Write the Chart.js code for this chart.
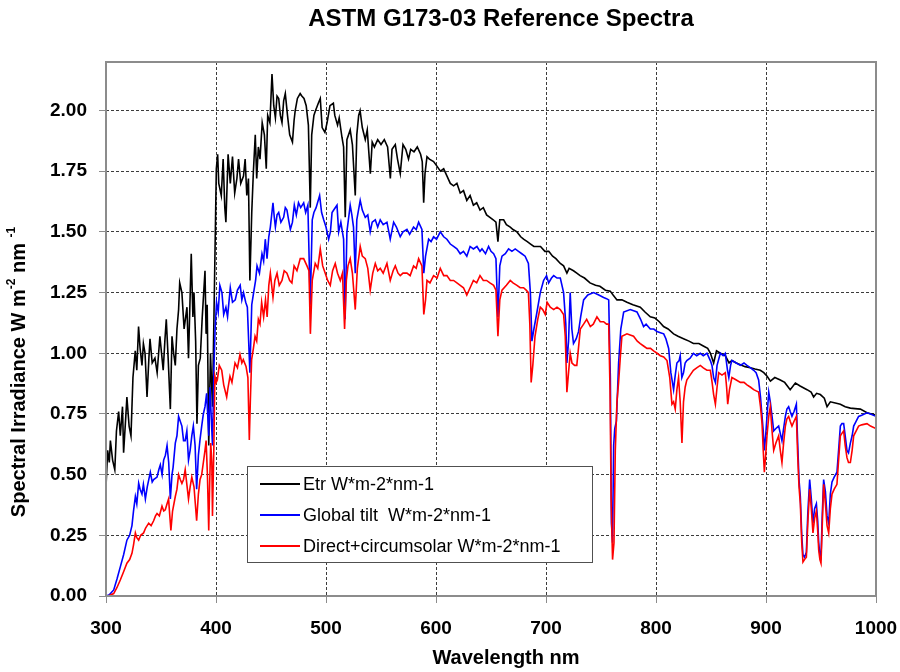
<!DOCTYPE html>
<html>
<head>
<meta charset="utf-8">
<script src="https://cdn.jsdelivr.net/npm/chart.js@4"></script>
<style>
  body { margin: 0; background: #fff; }
  canvas { display: block; }
</style>
</head>
<body>
<canvas id="grafico" width="900" height="672"></canvas>
<script>
// [nm, W*m-2*nm-1]
const etr = [
  [300,0.45],[301.5,0.60],[303,0.55],[304,0.64],[306,0.56],[308,0.52],[309.5,0.68],[311.5,0.76],[313,0.66],[315,0.78],
  [316,0.59],[318,0.74],[319,0.82],[321,0.70],[322.7,0.66],[324.5,0.90],[326.6,1.01],[328,0.93],[329.6,1.11],[331,1.02],
  [332.7,0.95],[334,1.04],[335.5,1.00],[337.3,0.82],[339,0.98],[340,1.06],[342,0.96],[344.5,0.98],[346.5,0.92],[349,1.07],
  [350.5,1.00],[352,0.93],[353.5,1.05],[354.8,1.14],[356.5,0.98],[358.5,0.77],[360,1.07],[361.5,1.00],[363,0.95],[364.5,1.10],
  [366,1.18],[367,1.29],[369,1.25],[371,1.10],[373.6,1.19],[375,0.98],[377.5,1.41],[379,1.15],[380,1.25],[381.5,1.05],
  [382.7,0.71],[384,0.95],[385.7,0.98],[387.5,1.15],[390,1.34],[391,1.08],[392,1.20],[393.4,0.62],[395,1.00],[396.8,0.78],
  [398.5,1.25],[400.3,1.76],[401.5,1.82],[402.5,1.70],[404.8,1.65],[406.5,1.80],[408,1.60],[409,1.54],[411,1.82],[413,1.70],
  [415,1.81],[417,1.66],[419,1.72],[420.5,1.80],[422.5,1.70],[425,1.73],[426.5,1.80],[428,1.65],[429.5,1.72],[430.8,1.30],
  [432.5,1.58],[434,1.75],[435.7,1.90],[437,1.72],[438.5,1.85],[440,1.80],[442,1.95],[444,1.90],[445.7,1.76],[447,1.98],
  [449,1.95],[450.9,2.15],[452.5,2.02],[454,1.97],[455.5,2.06],[457,2.05],[458.5,1.98],[460,1.95],[461.5,2.04],[463,2.07],
  [465,1.98],[467,1.90],[469.5,1.87],[471,1.96],[472,2.00],[474,2.05],[476.5,2.07],[478,2.06],[480,2.05],[482,2.02],
  [484,1.94],[485.7,1.60],[487,1.90],[489,1.98],[490.5,2.00],[493,2.03],[494.8,2.05],[496.5,1.93],[499,1.91],[501,1.95],
  [503.6,2.02],[506.7,2.03],[508,1.98],[510.5,1.94],[512,1.97],[514.5,1.89],[516,1.85],[517.5,1.56],[519,1.88],[522,1.92],
  [524,1.86],[526.6,1.65],[528,1.90],[529.7,1.98],[531,2.00],[533,1.93],[535.7,1.88],[537.5,1.92],[540.3,1.74],[542,1.87],
  [544,1.85],[547,1.88],[550,1.86],[553,1.88],[556,1.85],[558.5,1.72],[560,1.84],[563,1.86],[565,1.80],[567.5,1.74],
  [570,1.86],[572.5,1.84],[575,1.80],[577,1.84],[580,1.83],[583,1.85],[586,1.82],[587.5,1.79],[588.8,1.62],[590,1.74],
  [591.8,1.81],[594,1.80],[597.8,1.79],[601,1.77],[604,1.75],[607,1.76],[610,1.73],[613,1.70],[616,1.69],[619,1.70],
  [622,1.66],[625,1.67],[628,1.63],[631,1.65],[634,1.61],[637,1.62],[640,1.59],[643,1.60],[646,1.57],[649,1.56],
  [652,1.55],[654.5,1.54],[656.3,1.46],[658,1.55],[661.5,1.55],[664,1.53],[667.5,1.52],[670,1.51],[673.6,1.50],[677,1.48],
  [679.6,1.47],[683,1.46],[686,1.45],[689,1.44],[692,1.44],[695,1.44],[699,1.42],[702.5,1.42],[706,1.40],[709,1.39],
  [713,1.37],[716,1.36],[719,1.33],[721,1.35],[725,1.34],[728,1.33],[731,1.32],[735,1.31],[740,1.29],[745,1.28],
  [749,1.276],[754,1.26],[758.4,1.256],[761,1.24],[764.5,1.22],[769,1.22],[773.6,1.21],[779,1.20],[785.7,1.19],[790,1.17],
  [794.8,1.15],[799,1.145],[803,1.13],[806.9,1.11],[811,1.10],[816,1.08],[820,1.07],[825,1.06],[830,1.05],[834,1.04],
  [839,1.04],[843,1.03],[847,1.02],[849.5,1.00],[852.4,0.96],[855,1.01],[858.5,1.00],[863,0.99],[866.4,0.96],[869,0.97],
  [873,0.96],[876.7,0.953],[881,0.945],[885.8,0.94],[890,0.935],[894.8,0.93],[898,0.92],[901,0.905],[904,0.885],[908,0.90],
  [913,0.89],[917,0.88],[922,0.85],[926.7,0.877],[931,0.865],[937.3,0.85],[941,0.84],[943.3,0.82],[946,0.835],[949.4,0.83],
  [953,0.815],[955.5,0.78],[958.5,0.80],[963,0.795],[967.6,0.79],[972,0.78],[976.7,0.774],[981,0.772],[985.8,0.77],[991.8,0.755],
  [996,0.75],[1000,0.745]
];

const globalTilt = [
  [300,0.0],[303,0.005],[307,0.025],[310,0.07],[313,0.12],[316,0.17],[319,0.23],[321.5,0.25],[323.6,0.29],[325,0.35],
  [326.7,0.41],[328,0.38],[329.7,0.465],[331,0.44],[332.7,0.42],[334,0.46],[335.8,0.40],[337.5,0.45],[340.3,0.51],[342,0.47],
  [343.3,0.48],[346.4,0.49],[348,0.52],[349.4,0.54],[351,0.50],[352.4,0.56],[354,0.58],[355.5,0.62],[357,0.55],[358.5,0.40],
  [360,0.50],[361,0.53],[363,0.63],[364.5,0.66],[366,0.74],[367.5,0.72],[369,0.70],[370.5,0.64],[372,0.64],[373.5,0.68],
  [375,0.56],[376.5,0.60],[378,0.66],[379.4,0.70],[381,0.62],[382.4,0.44],[384,0.58],[385.5,0.645],[387,0.70],[388.5,0.75],
  [390,0.78],[391.5,0.835],[393.4,0.66],[394.5,0.86],[396.8,0.62],[398.2,0.95],[399.2,1.10],[400.5,1.21],[402,1.17],[403.5,1.28],
  [405.4,1.25],[407,1.16],[409,1.19],[410.5,1.15],[413,1.27],[415,1.21],[417.5,1.22],[419.5,1.26],[422,1.28],[423.5,1.22],
  [425,1.25],[427,1.21],[428.5,1.19],[430.8,0.92],[432.5,1.20],[434.2,1.25],[436,1.30],[437.3,1.36],[439.5,1.33],[441.8,1.41],
  [443.3,1.38],[444.8,1.47],[446.4,1.39],[448,1.48],[449.4,1.52],[451.8,1.62],[453,1.56],[454,1.52],[455.5,1.57],[457,1.58],
  [459,1.54],[461.5,1.56],[463,1.60],[464.5,1.59],[466,1.55],[467.6,1.51],[469.5,1.54],[471.2,1.61],[473,1.57],[475,1.62],
  [477,1.60],[479.7,1.62],[481.5,1.58],[483.5,1.61],[485.7,1.20],[487.5,1.55],[489,1.58],[491,1.60],[494.2,1.65],[496,1.58],
  [497.9,1.55],[500,1.52],[502.4,1.47],[504,1.50],[505.5,1.58],[507,1.59],[510,1.61],[511.5,1.50],[513.5,1.54],[516,1.47],
  [517.4,1.14],[519,1.50],[522,1.61],[523.5,1.57],[525,1.52],[526.6,1.33],[528,1.55],[531.1,1.63],[533,1.59],[535.7,1.56],
  [538,1.57],[540.2,1.50],[542,1.54],[544.8,1.55],[547,1.52],[549.3,1.55],[552,1.53],[555.4,1.54],[558.4,1.47],[561.5,1.54],
  [564,1.52],[567.5,1.48],[570,1.50],[573.6,1.51],[576,1.49],[579.6,1.52],[582,1.51],[584.2,1.54],[587.2,1.51],[588.9,1.33],
  [590.5,1.40],[593.3,1.47],[595.5,1.46],[597.8,1.48],[600.5,1.47],[603.9,1.50],[607,1.48],[609.9,1.47],[613,1.45],[616,1.44],
  [619,1.43],[622,1.41],[625,1.42],[628,1.40],[631,1.44],[634,1.43],[637.2,1.44],[640,1.42],[641.8,1.43],[645,1.41],
  [647.8,1.44],[650,1.42],[652.4,1.41],[654.5,1.39],[656.3,1.15],[658,1.36],[660,1.40],[663,1.41],[666,1.43],[669,1.42],
  [672,1.43],[675,1.42],[678,1.41],[681,1.40],[684,1.37],[685.8,1.25],[687.2,1.05],[689,1.10],[691.8,1.17],[694.8,1.25],
  [697.8,1.30],[700.5,1.32],[702.4,1.29],[705,1.31],[707,1.32],[710,1.31],[713,1.31],[716,1.25],[718,1.12],[719,0.96],
  [720.5,1.05],[722,1.25],[723.5,1.10],[725,1.04],[727.5,1.06],[729.6,1.09],[731.5,1.15],[734.2,1.22],[738,1.24],[743.3,1.25],
  [748,1.24],[752.4,1.23],[755,1.225],[757,1.22],[758.5,0.90],[759.5,0.30],[760.5,0.22],[761.5,0.62],[762.5,0.69],[764,0.72],
  [766,0.96],[768,1.10],[770.6,1.17],[776.6,1.18],[782.7,1.17],[786,1.14],[788.7,1.11],[791,1.12],[794.8,1.10],[798,1.10],
  [800.9,1.09],[804,1.085],[807,1.08],[809,1.06],[811.5,1.02],[813.5,0.92],[816,0.85],[817.5,0.91],[819,0.96],[821,0.97],
  [822,0.99],[823.5,0.90],[825,0.92],[826.5,0.96],[828,0.97],[831,0.98],[834,1.00],[837,0.99],[840.3,1.00],[843,0.99],
  [846.3,1.00],[849.4,0.97],[850.9,0.95],[852.4,0.90],[854,0.88],[855.5,0.95],[858.5,1.00],[861,0.99],[863,1.00],[865,0.93],
  [866.2,0.90],[867.8,0.95],[869,0.97],[873,0.96],[876.7,0.95],[880,0.96],[882.7,0.95],[886,0.94],[888.8,0.93],[891,0.92],
  [893.3,0.89],[895,0.82],[896.4,0.74],[897.5,0.68],[898.5,0.60],[899.7,0.66],[900.9,0.74],[902.5,0.84],[903.9,0.80],[905.5,0.74],
  [907,0.68],[909,0.69],[911.5,0.70],[913,0.67],[914.5,0.64],[916,0.69],[917.6,0.74],[919,0.77],[920.6,0.78],[922,0.76],
  [923.6,0.74],[925.5,0.76],[927.6,0.79],[928.8,0.63],[930,0.48],[931.2,0.41],[932.5,0.25],[933.6,0.17],[935,0.16],[936.7,0.18],
  [938,0.34],[939.7,0.48],[941.2,0.40],[942.7,0.30],[944.2,0.36],[945.8,0.38],[947,0.31],[947.9,0.22],[949,0.17],[950,0.16],
  [951.2,0.34],[952.4,0.48],[954,0.43],[955.5,0.33],[957,0.30],[958.5,0.42],[960,0.47],[962,0.49],[964.5,0.51],[966,0.60],
  [967.6,0.70],[969,0.71],[970.6,0.71],[972,0.66],[973.6,0.60],[975,0.59],[976.7,0.63],[978.3,0.66],[979.7,0.70],[982,0.72],
  [984.2,0.74],[987,0.745],[991.8,0.755],[995,0.75],[1000,0.74]
];

const direct = [
  [300,0.0],[303,0.002],[307,0.01],[310,0.035],[313,0.066],[316,0.10],[319,0.135],[321.5,0.15],[323.6,0.176],[325,0.21],
  [326.7,0.26],[328,0.24],[329.7,0.23],[331.5,0.25],[334.2,0.26],[336,0.28],[338.8,0.30],[341,0.29],[343.3,0.31],[345,0.33],
  [346.4,0.34],[348.5,0.33],[350.9,0.37],[352.5,0.35],[353.9,0.355],[355.5,0.38],[356.9,0.40],[358,0.33],[359,0.27],[360.5,0.35],
  [363,0.41],[364.5,0.44],[366,0.50],[367.5,0.48],[369,0.464],[370.5,0.48],[372,0.52],[373.5,0.46],[375,0.40],[376.5,0.45],
  [378,0.49],[380,0.45],[381.2,0.38],[382.4,0.31],[384,0.42],[385.5,0.48],[387,0.50],[388.5,0.55],[390,0.60],[391,0.64],
  [392.2,0.50],[393.4,0.27],[394.2,0.45],[395.2,0.63],[396.2,0.55],[396.8,0.33],[398,0.60],[399,0.905],[400.2,0.88],[401.2,0.89],
  [403,0.95],[405.2,0.93],[407,0.87],[409.7,0.82],[411,0.86],[412.7,0.905],[414.5,0.88],[417.3,0.96],[419.5,0.94],[421.8,0.995],
  [423.5,0.96],[424.8,0.974],[427.3,0.946],[429,0.90],[430.3,0.643],[431.2,0.80],[432.4,0.974],[434,1.02],[435.5,1.07],[437,1.05],
  [438.5,1.14],[440,1.12],[441.5,1.21],[443.3,1.15],[445,1.22],[446.5,1.15],[448,1.28],[449.4,1.33],[451.8,1.23],[453.5,1.30],
  [455.5,1.33],[457.5,1.28],[460,1.30],[462,1.34],[464.5,1.33],[467,1.30],[469,1.29],[471,1.36],[473.6,1.34],[476.6,1.39],
  [479.7,1.39],[482.7,1.36],[484.5,1.34],[485.8,1.08],[487.5,1.30],[490.2,1.37],[492.5,1.35],[494.8,1.43],[497,1.36],[499.3,1.33],
  [501.5,1.30],[503.9,1.28],[506,1.34],[508.4,1.37],[510.5,1.33],[513,1.30],[515,1.33],[516.9,1.10],[518.5,1.30],[520,1.36],
  [522,1.39],[524,1.33],[526.6,1.18],[528.5,1.35],[531.1,1.44],[533,1.40],[535.7,1.39],[538,1.35],[540.2,1.26],[542.5,1.33],
  [544.8,1.37],[547,1.34],[549.3,1.35],[552,1.33],[555.4,1.37],[558.4,1.30],[561,1.34],[563,1.36],[565.5,1.33],[567.5,1.32],
  [570,1.33],[573.6,1.33],[576.5,1.32],[579.6,1.36],[582,1.35],[584.2,1.39],[587.2,1.36],[588.9,1.16],[590.5,1.22],[591.8,1.30],
  [594.5,1.29],[597.8,1.32],[601,1.31],[603.9,1.35],[607,1.32],[609.9,1.32],[613,1.30],[616,1.30],[619,1.29],[622,1.28],
  [625,1.27],[628,1.24],[631,1.27],[634,1.30],[637,1.29],[640,1.32],[643,1.30],[646,1.30],[649,1.29],[652.4,1.28],
  [654.5,1.26],[656.3,1.07],[658,1.22],[660,1.26],[664,1.28],[667.5,1.30],[670,1.29],[673.6,1.28],[676.5,1.27],[679.6,1.27],
  [682,1.26],[684,1.25],[685.3,1.12],[686.5,0.88],[688,0.95],[690,1.07],[692.5,1.14],[694.8,1.19],[697,1.18],[699.3,1.16],
  [701,1.21],[703.9,1.19],[707,1.18],[710,1.19],[713,1.18],[716,1.16],[717.5,1.07],[719,0.84],[720.5,0.92],[722,1.00],
  [723.6,0.96],[726,0.95],[728,0.95],[729.5,1.02],[731.2,1.10],[734.2,1.12],[737,1.14],[740.3,1.11],[743,1.12],[746.3,1.15],
  [749.3,1.13],[752.4,1.13],[755,1.12],[757,1.12],[758.2,0.85],[759.2,0.40],[760.5,0.15],[761.8,0.22],[763,0.60],[764.5,0.80],
  [766,0.88],[767.5,0.98],[769,1.07],[773.6,1.08],[776.5,1.075],[779.6,1.07],[783,1.05],[785.7,1.04],[788.7,1.03],[791.8,1.02],
  [795,1.02],[797.8,1.01],[801,1.00],[803.9,0.99],[807,0.985],[810,0.97],[812.5,0.90],[814.5,0.79],[816,0.80],[817.5,0.77],
  [819,0.85],[820.5,0.90],[822,0.80],[823.6,0.63],[825,0.80],[826.5,0.86],[828,0.89],[831,0.91],[834,0.93],[837,0.94],
  [840.3,0.95],[843,0.94],[846.3,0.93],[849.4,0.93],[851,0.88],[852.4,0.83],[854,0.79],[855.5,0.86],[857,0.92],[860,0.91],
  [863,0.92],[864.2,0.86],[865.2,0.79],[866.8,0.85],[869,0.90],[873,0.89],[876.7,0.88],[880,0.88],[882.7,0.87],[886,0.86],
  [888.8,0.85],[891,0.845],[893.3,0.84],[895,0.78],[896.4,0.71],[897.5,0.60],[898.5,0.51],[899.7,0.58],[900.9,0.66],[902.5,0.74],
  [903.9,0.78],[905.5,0.68],[907,0.60],[909,0.63],[911.5,0.66],[913,0.60],[914.5,0.55],[916,0.63],[917.6,0.70],[919,0.73],
  [920.6,0.74],[922,0.72],[923.6,0.70],[925.5,0.72],[927.6,0.74],[928.8,0.58],[930,0.45],[931.2,0.38],[932.5,0.22],[933.6,0.14],
  [935,0.15],[936.7,0.16],[938,0.30],[939.7,0.44],[941.2,0.36],[942.7,0.26],[944.2,0.32],[945.8,0.35],[947,0.27],[947.9,0.19],
  [949,0.15],[950,0.135],[951.2,0.30],[952.4,0.46],[954,0.38],[955.5,0.29],[957,0.26],[958.5,0.36],[960,0.42],[962,0.44],
  [964.5,0.46],[966,0.56],[967.6,0.66],[969,0.67],[970.6,0.68],[972,0.62],[973.6,0.57],[975,0.55],[976.7,0.55],[978.3,0.60],
  [979.7,0.66],[982,0.68],[984.2,0.70],[987,0.705],[991.8,0.71],[995,0.70],[1000,0.69]
];

const seriesNames = ["Etr W*m-2*nm-1", "Global tilt  W*m-2*nm-1", "Direct+circumsolar W*m-2*nm-1"];
const seriesColors = ["#000000", "#0000ff", "#ff0000"];

const FONT = "'Liberation Sans', Arial, Helvetica, sans-serif";

function pontos(serie) {
  return serie.map(p => ({ x: p[0], y: p[1] }));
}

// titles, legend box and plot frame
const extras = {
  id: "extras",
  afterDatasetsDraw(chart) {
    const ctx = chart.ctx;
    const area = chart.chartArea;

    ctx.save();
    ctx.strokeStyle = "#8c8c8c";
    ctx.lineWidth = 2;
    ctx.strokeRect(area.left, area.top, area.right - area.left, area.bottom - area.top);

    // legend inside the plot
    const box = { x: 247, y: 466, w: 345, h: 96 };
    ctx.fillStyle = "#fff";
    ctx.fillRect(box.x, box.y, box.w, box.h);
    ctx.strokeStyle = "#505050";
    ctx.lineWidth = 1;
    ctx.strokeRect(box.x + 0.5, box.y + 0.5, box.w, box.h);
    const rows = [484, 515, 546];
    ctx.font = "18px " + FONT;
    ctx.textBaseline = "middle";
    seriesNames.forEach((nome, i) => {
      ctx.strokeStyle = seriesColors[i];
      ctx.lineWidth = 2;
      ctx.beginPath();
      ctx.moveTo(260, rows[i]);
      ctx.lineTo(300, rows[i]);
      ctx.stroke();
      ctx.fillStyle = "#000";
      ctx.fillText(nome, 303, rows[i] + 1);
    });
    ctx.restore();
  },
  afterDraw(chart) {
    const ctx = chart.ctx;
    ctx.save();
    ctx.fillStyle = "#000";
    ctx.textAlign = "center";
    ctx.textBaseline = "middle";
    ctx.font = "bold 24px " + FONT;
    ctx.fillText("ASTM G173-03 Reference Spectra", 501, 19);
    ctx.font = "bold 20px " + FONT;
    ctx.fillText("Wavelength nm", 506, 658);

    // y title with superscripts
    ctx.translate(19, 372);
    ctx.rotate(-Math.PI / 2);
    const partes = [["Spectral Irradiance W m", false], ["-2", true], [" nm ", false], ["-1", true]];
    const grande = "bold 20px " + FONT, pequeno = "bold 12px " + FONT;
    let total = 0;
    partes.forEach(p => { ctx.font = p[1] ? pequeno : grande; total += ctx.measureText(p[0]).width; });
    let x = -total / 2;
    ctx.textAlign = "left";
    partes.forEach(p => {
      ctx.font = p[1] ? pequeno : grande;
      ctx.fillText(p[0], x, p[1] ? -7 : 0);
      x += ctx.measureText(p[0]).width;
    });
    ctx.restore();
  }
};

const grade = { color: "#3c3c3c", lineWidth: 1, tickLength: 7, tickColor: "#8c8c8c", tickWidth: 1 };

new Chart(document.getElementById("grafico"), {
  type: "line",
  data: {
    datasets: [etr, globalTilt, direct].map((serie, i) => ({
      label: seriesNames[i],
      data: pontos(serie),
      borderColor: seriesColors[i],
      backgroundColor: seriesColors[i],
      borderWidth: 1.6,
      pointRadius: 0,
      tension: 0,
      order: 3 - i
    }))
  },
  options: {
    responsive: false,
    devicePixelRatio: 1,
    animation: false,
    layout: { padding: { top: 62, right: 24, left: 0, bottom: 0 } },
    plugins: {
      legend: { display: false },
      title: { display: false },
      tooltip: { enabled: false }
    },
    scales: {
      x: {
        type: "linear",
        min: 300,
        max: 1000,
        ticks: {
          stepSize: 100,
          padding: 14,
          color: "#000",
          font: { family: FONT, size: 19, weight: "bold" },
          maxRotation: 0,
          callback: v => String(v)
        },
        grid: grade,
        border: { display: false, dash: [3, 2] },
        afterFit: s => { s.height = 76; s.paddingLeft = 0; s.paddingRight = 0; }
      },
      y: {
        min: 0,
        max: 2.2,
        ticks: {
          stepSize: 0.25,
          includeBounds: false,
          padding: 12,
          color: "#000",
          font: { family: FONT, size: 19, weight: "bold" },
          callback: v => v.toFixed(2)
        },
        grid: grade,
        border: { display: false, dash: [3, 2] },
        afterFit: s => { s.width = 106; s.paddingTop = 0; s.paddingBottom = 0; }
      }
    }
  },
  plugins: [extras]
});
</script>
</body>
</html>
